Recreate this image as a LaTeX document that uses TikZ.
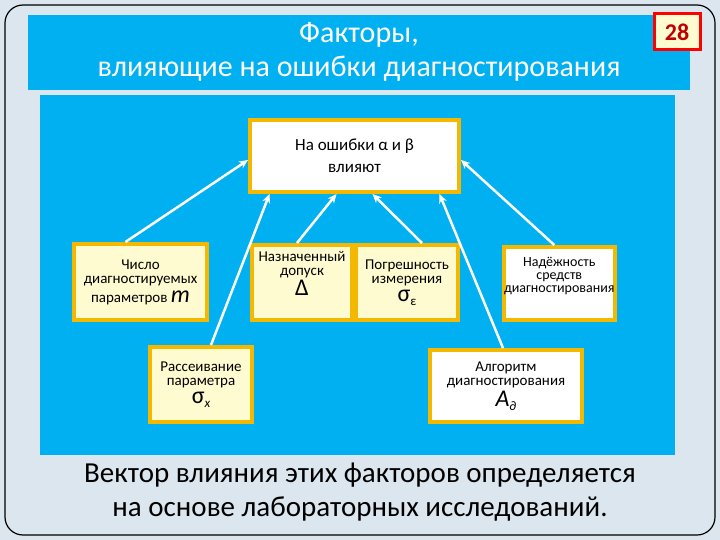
\documentclass[tikz,border=0pt]{standalone}
\usepackage{fontspec}
\setmainfont{Carlito}
\usetikzlibrary{arrows.meta}
\definecolor{bg}{HTML}{DCE6EE}
\definecolor{cy}{HTML}{00B0F0}
\definecolor{frm}{HTML}{F5B800}
\definecolor{ylw}{HTML}{FFFBD0}
\definecolor{dred}{HTML}{C00000}
\newcommand{\bigsym}[1]{{\fontsize{24}{24}\selectfont #1}}
\newcommand{\subsym}[1]{\raisebox{-4pt}{\fontsize{13}{13}\selectfont #1}}
\tikzset{
 fbox/.style={draw=frm,line width=4pt,fill=ylw,inner sep=0pt,align=center,font=\fontsize{15}{14}\selectfont,anchor=north west},
 wbox/.style={fbox,fill=white},
 conn/.style={draw=white,line width=2.5pt,-{Stealth[length=9pt,width=8pt]}}
}
\begin{document}
\begin{tikzpicture}[x=1pt,y=-1pt]
\useasboundingbox (0,0) rectangle (720,540);
\fill[bg] (0,0) rectangle (720,540);
\draw[black,line width=1.2pt,rounded corners=18pt] (5,5) rectangle (715,535);
\fill[cy] (28,15) rectangle (690,90);
\node[font=\fontsize{30}{34}\selectfont,text=white,align=center] (title) at (359,52) {Факторы,\\влияющие на ошибки диагностирования};
\node[draw=red,line width=3pt,fill=ylw,minimum width=46pt,minimum height=36pt,font=\bfseries\fontsize{24}{24}\selectfont,text=dred] (badge) at (677,32) {28};
\fill[cy] (40,95) rectangle (675,455);
\node[wbox,minimum width=209pt,minimum height=72pt,font=\fontsize{17}{20}\selectfont] (top) at (248,118) {На ошибки α  и β\\[2pt]влияют};
\node[fbox,minimum width=133pt,minimum height=76pt] (a) at (72,242) {Число\\диагностируемых\\[4pt]параметров  \bigsym{\itshape m}};
\node[fbox,minimum width=100pt,minimum height=75pt] (b) at (250,243) {Назначенный\\допуск\\[2pt]\bigsym{Δ}\\[4pt]};
\node[fbox,minimum width=102pt,minimum height=75pt] (c) at (354,243) {Погрешность\\измерения\\[4pt]\bigsym{σ}\subsym{ε}};
\node[wbox,minimum width=108pt,minimum height=73pt,font=\fontsize{14}{13}\selectfont] (d) at (502,245) {Надёжность\\средств\\диагностирования\\[4pt]};
\node[fbox,minimum width=102pt,minimum height=75pt] (e) at (148,345) {Рассеивание\\параметра\\[4pt]\bigsym{σ}\subsym{\itshape x}};
\node[wbox,minimum width=152pt,minimum height=72pt] (f) at (428,348) {Алгоритм\\диагностирования\\[2pt]\bigsym{\itshape A}\subsym{∂}};
\draw[conn] ([xshift=-15pt]a.north) -- ([yshift=-4pt]top.west);
\draw[conn] ([xshift=10pt]e.north) -- ([xshift=-85pt]top.south);
\draw[conn] ([xshift=-5pt]b.north) -- ([xshift=-18pt]top.south);
\draw[conn] ([xshift=15pt]c.north) -- ([xshift=18pt]top.south);
\draw[conn] ([xshift=-5pt]d.north) -- ([yshift=-4pt]top.east);
\draw[conn] ([xshift=-3pt]f.north) -- ([xshift=85pt]top.south);
\node[font=\fontsize{29}{34}\selectfont,align=center] (foot) at (360,492) {Вектор влияния этих факторов определяется\\на основе лабораторных исследований.};
\end{tikzpicture}
\end{document}
